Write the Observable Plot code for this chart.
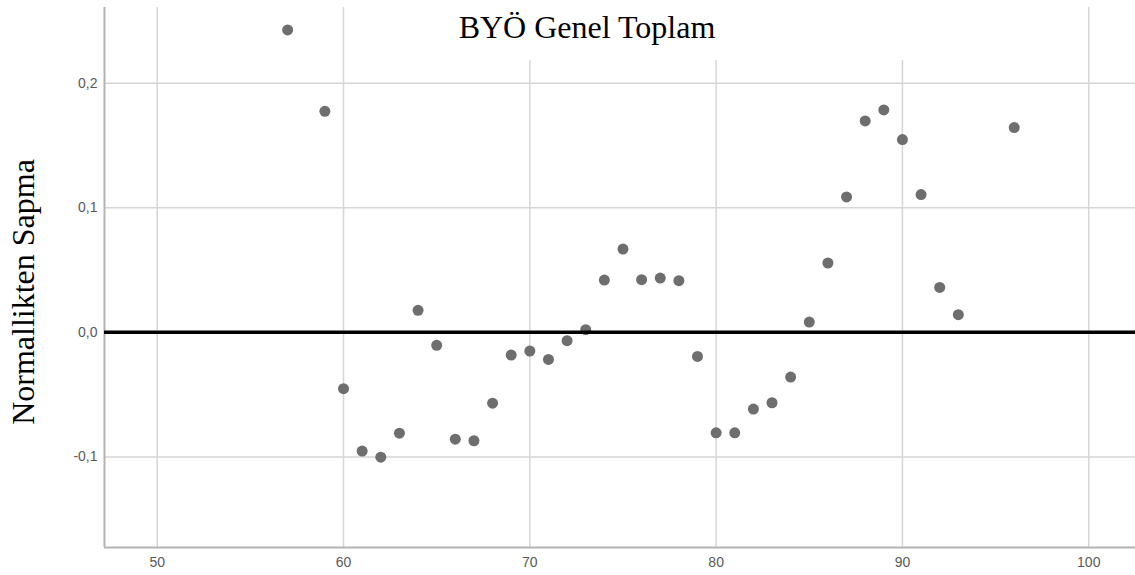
<!DOCTYPE html>
<html>
<head>
<meta charset="utf-8">
<script src="https://cdn.jsdelivr.net/npm/d3@7"></script>
<script src="https://cdn.jsdelivr.net/npm/@observablehq/plot@0.6"></script>
<style>
  html, body { margin: 0; padding: 0; background: #fff; }
  #wrap { position: relative; width: 1135px; height: 575px; overflow: hidden; }
  #wrap svg { display: block; position: absolute; left: 0; top: 0; z-index: 0; }
  #wrap svg text { font-size: 14px !important; font-family: "Liberation Sans", Arial, sans-serif !important; }
  #titlebox { position: absolute; left: 346px; top: 0; width: 734px; height: 60px; background: #fff; z-index: 1; }
  #title { position: absolute; left: 387px; top: 11px; width: 400px; text-align: center; z-index: 2;
           font-family: "Liberation Serif", "Times New Roman", serif; font-size: 32px; line-height: 1; color: #000; white-space: nowrap; }
  #ylabel { position: absolute; left: 23px; top: 292px; transform: translate(-50%, -50%) rotate(-90deg); z-index: 2;
            font-family: "Liberation Serif", "Times New Roman", serif; font-size: 32px; line-height: 1; color: #000; white-space: nowrap; }
</style>
</head>
<body>
<div id="wrap"></div>
<script>
// Data
const scores = [57, 59, 60, 61, 62, 63, 64, 65, 66, 67, 68, 69, 70, 71, 72, 73, 74, 75, 76, 77, 78, 79, 80, 81, 82, 83, 84, 85, 86, 87, 88, 89, 90, 91, 92, 93, 96];
const deviations = [0.2428, 0.1775, -0.0452, -0.0953, -0.1002, -0.0809, 0.0177, -0.0104, -0.0857, -0.0870, -0.0568, -0.0182, -0.0150, -0.0217, -0.0067, 0.0022, 0.0420, 0.0669, 0.0423, 0.0436, 0.0415, -0.0193, -0.0806, -0.0806, -0.0616, -0.0565, -0.0359, 0.0083, 0.0557, 0.1087, 0.1697, 0.1786, 0.1548, 0.1106, 0.0361, 0.0142, 0.1644];
const xTicks = [50, 60, 70, 80, 90, 100];
const yTicks = [-0.1, 0.0, 0.1, 0.2];
const xDomain = [47.17, 102.51];
const yDomain = [-0.1727, 0.2608];
const referenceLine = [0];
const titleText = "BYÖ Genel Toplam";
const yLabelText = "Normallikten Sapma";

const data = scores.map((s, i) => ({score: s, dev: deviations[i]}));
const fmtComma = d => d3.format(".1f")(d).replace(".", ",").replace("−", "-");

const chart = Plot.plot({
  width: 1135,
  height: 575,
  marginLeft: 104,
  marginRight: 0,
  marginTop: 7,
  marginBottom: 28,
  style: {fontFamily: "'Liberation Sans', Arial, sans-serif", fontSize: "14px", background: "#fff"},
  x: {domain: xDomain, label: null},
  y: {domain: yDomain, label: null},
  marks: [
    Plot.ruleX(xTicks, {stroke: "#d6d6d6", strokeWidth: 1.5}),
    Plot.ruleY(yTicks.filter(d => d !== 0), {stroke: "#d6d6d6", strokeWidth: 1.5}),
    Plot.ruleX(xDomain.slice(0, 1), {stroke: "#b4b4b4", strokeWidth: 2}),
    Plot.ruleY(yDomain.slice(0, 1), {stroke: "#b4b4b4", strokeWidth: 2}),
    Plot.axisX({ticks: xTicks, tickFormat: d => String(d), tickSize: 0, tickPadding: 10, fill: "#5a5a5a", label: null}),
    Plot.axisY({ticks: yTicks, tickFormat: fmtComma, tickSize: 0, tickPadding: 7, fill: "#5a5a5a", label: null}),
    Plot.dot(data, {x: "score", y: "dev", r: 5.5, fill: "#6e6e6e", stroke: "none"}),
    Plot.ruleY(referenceLine, {stroke: "#000", strokeWidth: 3.5})
  ]
});

const wrap = document.getElementById("wrap");
wrap.appendChild(chart);
const box = document.createElement("div"); box.id = "titlebox"; wrap.appendChild(box);
const t = document.createElement("div"); t.id = "title"; t.textContent = titleText; wrap.appendChild(t);
const yl = document.createElement("div"); yl.id = "ylabel"; yl.textContent = yLabelText; wrap.appendChild(yl);
</script>
</body>
</html>
